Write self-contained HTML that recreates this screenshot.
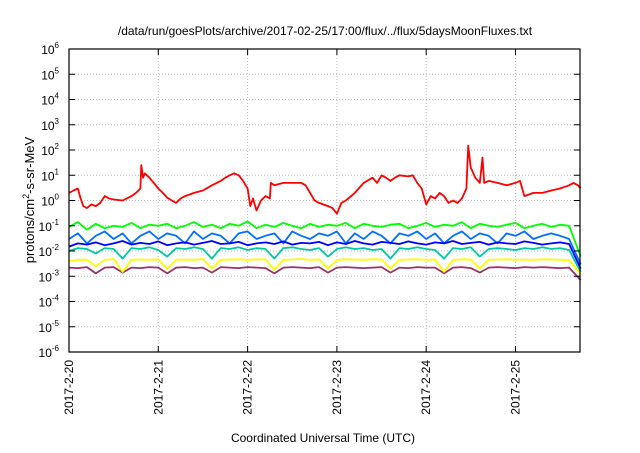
<!DOCTYPE html>
<html><head><meta charset="utf-8"><style>
body{margin:0;background:#fff;width:640px;height:448px;overflow:hidden}
svg{font-family:"Liberation Sans",sans-serif}
</style></head><body>
<svg id="chart" width="640" height="448" viewBox="0 0 640 448">
<text x="325" y="35" font-size="12" text-anchor="middle">/data/run/goesPlots/archive/2017-02-25/17:00/flux/../flux/5daysMoonFluxes.txt</text>
<text x="323" y="442" font-size="12" text-anchor="middle">Coordinated Universal Time (UTC)</text>
<text transform="translate(34,200) rotate(-90)" font-size="13" text-anchor="middle">protons/cm<tspan font-size="9" dy="-5">2</tspan><tspan dy="5">-s-sr-MeV</tspan></text>
<g id="grid"></g><g id="series"></g><g id="axes"></g>
</svg>
<script>
const dayLabels=["2017-2-20","2017-2-21","2017-2-22","2017-2-23","2017-2-24","2017-2-25"];
const decades=[-6,-5,-4,-3,-2,-1,0,1,2,3,4,5,6];
const redT=[0,0.05,0.1,0.13,0.16,0.2,0.25,0.3,0.35,0.4,0.45,0.5,0.6,0.7,0.75,0.8,0.81,0.83,0.85,0.9,0.95,1.0,1.05,1.1,1.15,1.2,1.25,1.3,1.4,1.5,1.6,1.7,1.75,1.8,1.85,1.9,1.95,2.0,2.03,2.06,2.1,2.15,2.2,2.25,2.26,2.3,2.4,2.5,2.6,2.65,2.7,2.75,2.8,2.9,2.95,3.0,3.05,3.1,3.2,3.3,3.4,3.45,3.5,3.55,3.6,3.65,3.7,3.8,3.85,3.9,3.95,4.0,4.05,4.1,4.15,4.2,4.25,4.3,4.35,4.4,4.45,4.47,4.5,4.55,4.6,4.63,4.65,4.7,4.8,4.9,5.0,5.05,5.1,5.2,5.3,5.4,5.5,5.6,5.65,5.7,5.73];
const redV=[2,2.5,3,1.2,0.6,0.5,0.7,0.6,0.8,1.5,1.2,1.1,1,1.5,2,3,25,8,12,8,5,3,2,1.3,1,0.8,1.2,1.5,2,2.5,4,6,8,10,12,10,6,3,0.6,1.2,0.4,1,1.5,1.2,5,4,5,5,5,4,2,1,0.8,0.6,0.5,0.3,0.8,1,2,5,8,5,10,8,6,8,10,9,10,5,3,0.7,1.5,1.2,2,1.5,0.8,1,0.8,1.2,3,150,20,8,5,50,5,6,5,4,5,6,1.5,2,2,2.5,3,4,5,4,3];
const gridT=[0,0.1,0.2,0.3,0.4,0.5,0.6,0.7,0.8,0.9,1.0,1.1,1.2,1.3,1.4,1.5,1.6,1.7,1.8,1.9,2.0,2.1,2.2,2.3,2.4,2.5,2.6,2.7,2.8,2.9,3.0,3.1,3.2,3.3,3.4,3.5,3.6,3.7,3.8,3.9,4.0,4.1,4.2,4.3,4.4,4.5,4.6,4.7,4.8,4.9,5.0,5.1,5.2,5.3,5.4,5.5,5.6,5.73];
const greenV=[0.09,0.14,0.07,0.12,0.08,0.10,0.09,0.13,0.08,0.11,0.10,0.12,0.08,0.10,0.14,0.09,0.11,0.08,0.12,0.10,0.15,0.08,0.11,0.09,0.13,0.10,0.08,0.12,0.09,0.11,0.10,0.13,0.08,0.12,0.10,0.09,0.11,0.12,0.08,0.10,0.13,0.09,0.11,0.10,0.14,0.08,0.12,0.10,0.09,0.11,0.13,0.08,0.10,0.12,0.09,0.11,0.10,0.006];
const lblueV=[0.03,0.05,0.02,0.04,0.06,0.03,0.05,0.02,0.04,0.06,0.03,0.05,0.04,0.02,0.06,0.03,0.05,0.04,0.02,0.05,0.06,0.03,0.04,0.05,0.02,0.06,0.04,0.03,0.05,0.04,0.06,0.02,0.05,0.03,0.06,0.04,0.02,0.05,0.04,0.06,0.03,0.05,0.02,0.04,0.06,0.03,0.05,0.04,0.02,0.05,0.04,0.06,0.03,0.04,0.05,0.04,0.03,0.003];
const blueV=[0.015,0.02,0.018,0.022,0.017,0.02,0.025,0.018,0.021,0.019,0.024,0.017,0.02,0.022,0.018,0.021,0.025,0.019,0.02,0.023,0.017,0.02,0.022,0.019,0.024,0.018,0.021,0.02,0.023,0.017,0.022,0.019,0.025,0.02,0.018,0.023,0.021,0.019,0.024,0.02,0.018,0.022,0.02,0.025,0.019,0.021,0.023,0.018,0.022,0.02,0.019,0.024,0.021,0.018,0.02,0.022,0.019,0.002];
const tealV=[0.01,0.013,0.012,0.008,0.013,0.012,0.005,0.013,0.012,0.014,0.011,0.006,0.013,0.012,0.014,0.012,0.005,0.013,0.012,0.014,0.011,0.013,0.012,0.005,0.013,0.014,0.012,0.011,0.013,0.006,0.012,0.014,0.012,0.013,0.011,0.012,0.005,0.013,0.012,0.014,0.012,0.011,0.005,0.013,0.012,0.014,0.006,0.012,0.013,0.012,0.011,0.013,0.012,0.014,0.012,0.013,0.011,0.0015];
const yellowV=[0.004,0.0045,0.0045,0.0025,0.0045,0.0048,0.0015,0.0045,0.0046,0.0045,0.0047,0.002,0.0045,0.0046,0.0045,0.0048,0.002,0.0045,0.0046,0.0047,0.0045,0.0046,0.0047,0.0018,0.0045,0.0046,0.0048,0.0045,0.0046,0.002,0.0045,0.0047,0.0046,0.0045,0.0047,0.0046,0.002,0.0045,0.0046,0.0047,0.0045,0.0046,0.0015,0.0045,0.0047,0.0046,0.002,0.0045,0.0046,0.0047,0.0045,0.0046,0.0045,0.0047,0.0046,0.0045,0.0044,0.0012];
const purpleV=[0.0022,0.0021,0.0023,0.0013,0.0022,0.0023,0.0014,0.0022,0.0021,0.0023,0.0022,0.0013,0.0022,0.0023,0.0021,0.0022,0.0014,0.0023,0.0022,0.0021,0.0023,0.0022,0.0021,0.0013,0.0022,0.0023,0.0022,0.0021,0.0023,0.0014,0.0022,0.0023,0.0022,0.0021,0.0022,0.0023,0.0014,0.0022,0.0021,0.0023,0.0022,0.0022,0.0013,0.0022,0.0023,0.0021,0.0014,0.0022,0.0023,0.0022,0.0021,0.0023,0.0022,0.0023,0.0022,0.0021,0.0022,0.0007];
const L=69,R=580,T=49,B=352,DAY=89.3;
function xs(t){return L+t*DAY}
function ys(v){return B-(Math.log10(v)+6)*(B-T)/12}
const NS="http://www.w3.org/2000/svg";
function mk(tag,attrs,parent){const e=document.createElementNS(NS,tag);for(const k in attrs)e.setAttribute(k,attrs[k]);parent.appendChild(e);return e}
const grid=document.getElementById('grid'),axes=document.getElementById('axes'),ser=document.getElementById('series');
decades.forEach(d=>{const y=ys(Math.pow(10,d));
 if(d>-6&&d<6){const g=mk('line',{x1:L,x2:R,y1:y,y2:y,stroke:'#bbb','stroke-dasharray':'1,2','stroke-width':1},grid);
 
 }
 const tk=mk('path',{d:`M${L},${y}h6M${R},${y}h-6`,stroke:'#000','stroke-width':1},axes);
 
 
 const tx=mk('text',{x:L-10,y:y+5,'font-size':12,'text-anchor':'end'},axes);
 
 
 tx.textContent='10';const sp=mk('tspan',{dy:-6,'font-size':8},tx);sp.textContent=String(d);
});
dayLabels.forEach((lab,i)=>{const x=xs(i);
 if(i>0){const g=mk('line',{x1:x,x2:x,y1:T,y2:B,stroke:'#bbb','stroke-dasharray':'1,2','stroke-width':1},grid);
 
 }
 const tk=mk('path',{d:`M${x},${B}v-6M${x},${T}v6`,stroke:'#000','stroke-width':1},axes);
 
 
 const tx=mk('text',{transform:`translate(${x+4},${360}) rotate(-90)`,'font-size':12,'text-anchor':'end'},axes);
 
 
 tx.textContent=lab;
});
const frame=mk('rect',{x:L,y:T,width:R-L,height:B-T,fill:'none',stroke:'#000','stroke-width':1.2},axes);


function line(ts,vs,color,name){const d=ts.map((t,i)=>(i?'L':'M')+xs(t).toFixed(1)+','+ys(vs[i]).toFixed(1)).join('');
 const p=mk('path',{d:d,fill:'none',stroke:color,'stroke-width':1.8,'stroke-linejoin':'round'},ser);
 
 }
line(gridT,purpleV,'#993366','series-purple');
line(gridT,yellowV,'#ffff00','series-yellow');
line(gridT,tealV,'#00c8a0','series-teal');
line(gridT,greenV,'#00ff00','series-green');
line(gridT,lblueV,'#0070ff','series-light-blue');
line(gridT,blueV,'#0000ff','series-blue');
line(redT,redV,'#ff0000','series-red');
</script>
</body></html>
